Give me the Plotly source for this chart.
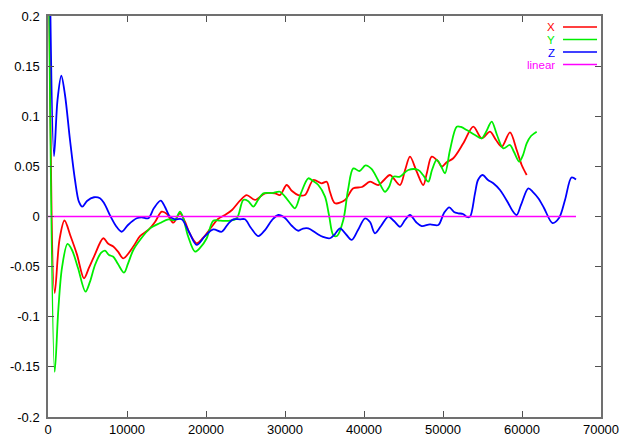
import plotly.graph_objects as go

# ---- data ----
x_X = [150, 848, 1456, 2089, 2873, 3671, 4557, 5190, 5823, 7000, 7595, 8266, 8861, 9531,
       10797, 11645, 12696, 13544, 14392, 15063, 15860, 16709, 17341, 17974, 18822, 19620,
       20721, 21519, 22405, 23291, 24303, 25152, 26202, 27468, 28734, 29367, 30215, 30886,
       31683, 32531, 33582, 34645, 35278, 35696, 36329, 37595, 38645, 39746, 40759, 41809,
       42531, 43290, 44556, 45190, 45822, 46671, 47506, 47974, 48570, 49405, 49836, 50507,
       51304, 52570, 53835, 54899, 55949, 56708, 57430, 58480, 59328, 59961, 60594]
y_X = [0.23, -0.0763, -0.023, -0.004, -0.020, -0.038, -0.0617, -0.051, -0.040, -0.0217,
       -0.027, -0.030, -0.035, -0.0417, -0.030, -0.0195, -0.0135, -0.0055, 0.0048, 0.0025,
       -0.0062, 0.0032, -0.0052, -0.0175, -0.0267, -0.0214, -0.0102, -0.0025, 0.0015, 0.0065,
       0.0158, 0.0214, 0.0165, 0.0231, 0.0231, 0.0214, 0.0314, 0.0254, 0.0214, 0.0214, 0.0364,
       0.0331, 0.0347, 0.0244, 0.0132, 0.0165, 0.0281, 0.0294, 0.0347, 0.0314, 0.0364, 0.0414,
       0.0314, 0.046, 0.0597, 0.0447, 0.0314, 0.044, 0.0597, 0.0547, 0.0497, 0.0544, 0.0581,
       0.073, 0.0896, 0.078, 0.0846, 0.0763, 0.0696, 0.084, 0.0663, 0.0514, 0.0414]

x_Y = [127, 848, 1304, 1772, 2468, 3038, 3797, 4747, 5316, 5949, 6709, 7215, 7721, 8266,
       8861, 9620, 10126, 10797, 11645, 12911, 14177, 15228, 16076, 16709, 17126, 17721,
       18607, 19240, 20088, 20924, 21772, 23038, 23924, 24721, 25316, 25987, 26582, 27253,
       28354, 29367, 30000, 30633, 31266, 32025, 32949, 33544, 34215, 35063, 35569, 36114,
       36582, 37380, 37975, 38645, 39430, 40190, 40950, 41772, 42658, 43164, 43708, 44556,
       45607, 46873, 47468, 48139, 48608, 49202, 49747, 50253, 50886, 51734, 52279, 52999,
       54051, 54899, 55443, 56164, 56835, 57633, 58480, 58987, 59658, 60126, 60594, 61139,
       61860]
y_Y = [0.23, -0.155, -0.0933, -0.051, -0.0274, -0.0334, -0.0514, -0.075, -0.065, -0.0484,
       -0.0364, -0.0341, -0.0384, -0.0401, -0.0474, -0.056, -0.047, -0.0334, -0.0234, -0.0118,
       -0.0065, -0.0028, -0.0035, 0.0048, -0.0018, -0.0195, -0.0351, -0.0314, -0.0217,
       -0.0042, -0.0042, -0.0042, -0.0015, 0.0165, 0.0155, 0.0098, 0.0165, 0.0231, 0.0234,
       0.0247, 0.0198, 0.0135, 0.0082, 0.0234, 0.0381, 0.0354, 0.0314, 0.0198, 0.0015,
       -0.0185, -0.0195, -0.0035, 0.0264, 0.048, 0.0454, 0.0509, 0.0474, 0.0364, 0.0247,
       0.0294, 0.0397, 0.0397, 0.0464, 0.0464, 0.0414, 0.0347, 0.0464, 0.0564, 0.0504, 0.0431,
       0.0663, 0.0896, 0.0893, 0.0863, 0.0813, 0.078, 0.0843, 0.0946, 0.0813, 0.068, 0.0713,
       0.0643, 0.0547, 0.0613, 0.073, 0.0803, 0.0846]

x_Z = [253, 760, 1203, 1684, 2152, 2785, 3418, 3924, 4342, 4937, 5823, 6582, 7089, 7937,
       8608, 9329, 10126, 11228, 11861, 12696, 13417, 14266, 14810, 15443, 16076, 16924,
       17848, 18822, 19873, 20924, 21987, 22785, 23456, 24303, 24936, 25696, 26620, 27468,
       28354, 29152, 30000, 30886, 31683, 32278, 32949, 33924, 34810, 35696, 36329, 36962,
       37595, 38443, 39240, 40126, 40759, 41392, 42152, 43076, 43797, 44556, 45190, 45822,
       46582, 47303, 48354, 49405, 50126, 50797, 51392, 51937, 52532, 53038, 53418, 54051,
       54431, 55000, 55696, 56367, 57215, 58265, 58734, 59328, 59873, 60797, 61392, 62063,
       62785, 63861, 64683, 65443, 66266, 66836]
y_Z = [0.23, 0.0603, 0.116, 0.1404, 0.1212, 0.0763, 0.0364, 0.0145, 0.0098, 0.0155, 0.0192,
       0.0182, 0.0135, -0.0002, -0.0095, -0.0152, -0.0085, -0.0018, -0.0008, -0.0018, 0.0085,
       0.0158, 0.0095, -0.0002, -0.0028, -0.0028, -0.0155, -0.0284, -0.0195, -0.0128,
       -0.0152, -0.0075, -0.0028, -0.0028, -0.0028, -0.0115, -0.0195, -0.0135, -0.0035,
       0.0015, -0.0015, -0.0095, -0.0142, -0.012, -0.0118, -0.0165, -0.0204, -0.0217,
       -0.0175, -0.0118, -0.0165, -0.0234, -0.0135, -0.0018, -0.0055, -0.0168, -0.0095,
       -0.0002, -0.0045, -0.0102, -0.0035, 0.0015, -0.0055, -0.0095, -0.0078, -0.0085,
       0.0035, 0.0092, 0.0045, 0.0032, 0.0025, -0.0005, -0.0002, 0.0231, 0.0364, 0.0414,
       0.0364, 0.0331, 0.0264, 0.0132, 0.0065, 0.0015, 0.0115, 0.0281, 0.0244, 0.0182,
       0.0085, -0.0065, -0.0015, 0.0165, 0.0389, 0.0369]

x_lin = [0, 66836]
y_lin = [0, 0]

series_names = ["X", "Y", "Z", "linear"]
series_colors = ["#ff0000", "#00ee00", "#0000ff", "#ff00ff"]

x_tickvals = [0, 10000, 20000, 30000, 40000, 50000, 60000, 70000]
x_ticktext = ["0", "10000", "20000", "30000", "40000", "50000", "60000", "70000"]
y_tickvals = [-0.2, -0.15, -0.1, -0.05, 0, 0.05, 0.1, 0.15, 0.2]
y_ticktext = ["-0.2", "-0.15", "-0.1", "-0.05", "0", "0.05", "0.1", "0.15", "0.2"]

# ---- figure ----
FONT = "Liberation Sans"
fig = go.Figure()
data = [(x_X, y_X), (x_Y, y_Y), (x_Z, y_Z)]
for (xs, ys), name, col in zip(data, series_names[:3], series_colors[:3]):
    fig.add_trace(go.Scatter(x=xs, y=ys, mode="lines", name=name,
                             line=dict(color=col, width=1.8, shape="spline", smoothing=0.9)))
fig.add_trace(go.Scatter(x=x_lin, y=y_lin, mode="lines", name=series_names[3],
                         line=dict(color=series_colors[3], width=1.3)))

axis_common = dict(showgrid=False, zeroline=False, showline=True, linecolor="#707070",
                   linewidth=1.5, mirror="ticks", ticks="inside", ticklen=6,
                   tickcolor="#505050", tickwidth=1, automargin=False,
                   tickfont=dict(family=FONT, size=13, color="black"))
fig.update_xaxes(range=[0, 70000], tickmode="array", tickvals=x_tickvals,
                 ticktext=x_ticktext, **axis_common)
fig.update_yaxes(range=[-0.2, 0.2], tickmode="array", tickvals=y_tickvals,
                 ticktext=y_ticktext, ticklabelstandoff=4, **axis_common)

# gnuplot-style key: text right-aligned, sample line to its right
key_y = [0.9726, 0.9414, 0.9102, 0.8791]
for name, col, ky in zip(series_names, series_colors, key_y):
    fig.add_annotation(x=0.9186, y=ky, xref="paper", yref="paper", text=name,
                       showarrow=False, xanchor="right", yanchor="middle",
                       font=dict(family=FONT, size=11.5, color=col), borderpad=0,
                       height=11)
    fig.add_shape(type="line", xref="paper", yref="paper", x0=0.9313, x1=0.9928,
                  y0=ky, y1=ky, line=dict(color=col, width=1.3))

# the page body adds an 8px offset, so the figure is 8px smaller with matching margins
fig.update_layout(width=630, height=429, showlegend=False,
                  margin=dict(l=40, r=37, t=8, b=20),
                  plot_bgcolor="white", paper_bgcolor="white")
fig.write_html("out.html")
